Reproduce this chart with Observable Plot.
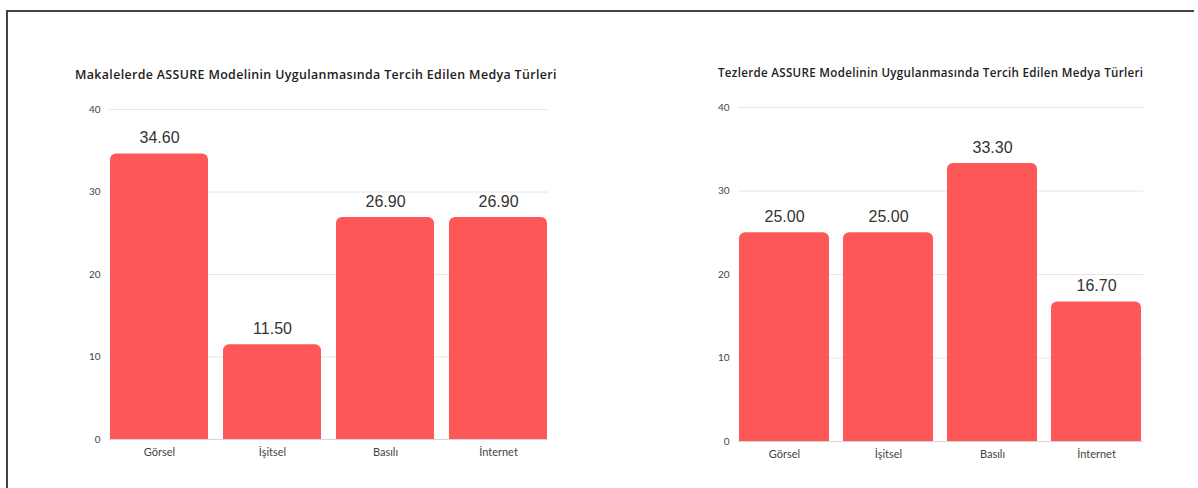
<!DOCTYPE html>
<html>
<head>
<meta charset="utf-8">
<script src="https://cdn.jsdelivr.net/npm/d3@7"></script>
<script src="https://cdn.jsdelivr.net/npm/@observablehq/plot@0.6"></script>
<style>
  html, body { margin: 0; padding: 0; background: #fff; }
  #page { position: relative; width: 1198px; height: 488px; overflow: hidden; background: #fff; }
  #frame { position: absolute; left: 6px; top: 10px; width: 1188px; height: 480px; border-top: 2px solid #444; border-left: 2px solid #444; box-sizing: border-box; }
  .title { position: absolute; font-family: "Open Sans", sans-serif; font-weight: 600; color: #222; white-space: nowrap; }
  .chart { position: absolute; top: 0; }
</style>
</head>
<body>
<div id="page">
  <div id="frame"></div>
  <div class="title" id="t1" style="left:75px; top:66px; font-size:12.4px; letter-spacing:0.36px;"></div>
  <div class="title" id="t2" style="left:718px; top:65px; font-size:11.6px; letter-spacing:0.3px;"></div>
  <div class="chart" id="c1" style="left:0px;"></div>
  <div class="chart" id="c2" style="left:600px;"></div>
</div>
<script>
const categories = ["Görsel", "İşitsel", "Basılı", "İnternet"];
const makaleValues = [34.60, 11.50, 26.90, 26.90];
const tezValues = [25.00, 25.00, 33.30, 16.70];
const yTicks = [0, 10, 20, 30, 40];
const title1 = "Makalelerde ASSURE Modelinin Uygulanmasında Tercih Edilen Medya Türleri";
const title2 = "Tezlerde ASSURE Modelinin Uygulanmasında Tercih Edilen Medya Türleri";

document.getElementById("t1").textContent = title1;
document.getElementById("t2").textContent = title2;

const BAR = "#FF5757";

function makeChart(values, opts) {
  const data = categories.map((c, i) => ({cat: c, v: values[i]}));
  return Plot.plot({
    width: opts.width,
    height: 488,
    marginLeft: opts.marginLeft,
    marginRight: opts.marginRight,
    marginTop: opts.marginTop,
    marginBottom: opts.marginBottom,
    style: {background: "transparent", fontFamily: "Lato, sans-serif"},
    x: {domain: categories, padding: 0.13, paddingOuter: 0, label: null, tickSize: 0, tickPadding: 9, fontSize: 11},
    y: {domain: [0, 40], ticks: yTicks, label: null, tickSize: 0, tickPadding: 9},
    marks: [
      Plot.ruleY(yTicks.filter(t => t > 0), {stroke: "#e6e6e6", strokeWidth: 1}),
      Plot.axisY({ticks: yTicks, tickSize: 0, tickPadding: 9, fontSize: 10, fill: "#444", label: null}),
      Plot.axisX({tickSize: 0, tickPadding: 9, fontSize: 11, fill: "#444", label: null}),
      Plot.barY(data, {x: "cat", y: "v", fill: BAR, rx: 6}),
      Plot.barY(data, {x: "cat", y1: 0, y2: d => d.v / 2, fill: BAR}),
      Plot.ruleY([0], {stroke: "#d4d4d4", strokeWidth: 1}),
      Plot.text(data, {x: "cat", y: "v", text: d => d.v.toFixed(2), dy: -16, fontSize: 16, fill: "#333", fontFamily: "Liberation Sans, Arial, sans-serif"})
    ]
  });
}

document.getElementById("c1").appendChild(makeChart(makaleValues, {width: 600, marginLeft: 109, marginRight: 52, marginTop: 109, marginBottom: 49}));
document.getElementById("c2").appendChild(makeChart(tezValues, {width: 598, marginLeft: 138, marginRight: 55, marginTop: 107, marginBottom: 47}));
</script>
</body>
</html>
